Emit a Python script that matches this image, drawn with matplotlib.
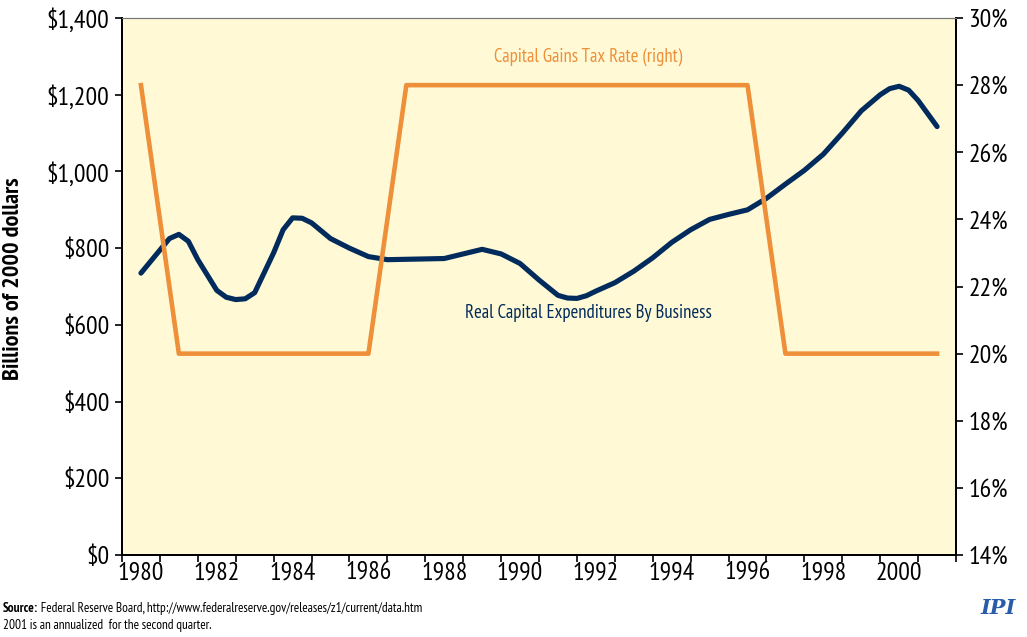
import numpy as np
import matplotlib.pyplot as plt

plt.rcParams['font.family'] = ['PT Sans Narrow', 'DejaVu Sans']

# tax rate, one value per year
years = np.arange(1980, 2002)
tax_rate = [28, 20, 20, 20, 20, 20, 20, 28, 28, 28, 28,
            28, 28, 28, 28, 28, 28, 20, 20, 20, 20, 20]

# capital expenditures (extra readings round the turns)
capex_x = [1980, 1980.5, 1980.75, 1981, 1981.25, 1981.5, 1982, 1982.25, 1982.5,
           1982.75, 1983, 1983.5, 1983.75, 1984, 1984.25, 1984.5, 1985, 1985.5,
           1986, 1986.5, 1987, 1987.5, 1988, 1988.5, 1989, 1989.5, 1990, 1990.5,
           1991, 1991.25, 1991.5, 1991.75, 1992, 1992.5, 1993, 1993.5, 1994,
           1994.5, 1995, 1995.5, 1996, 1996.5, 1997, 1997.5, 1998, 1998.5, 1999,
           1999.5, 1999.75, 2000, 2000.25, 2000.5, 2001]
capex = [735, 795, 825, 836, 818, 770, 690, 672, 666,
         668, 684, 788, 848, 879, 878, 866, 825, 800,
         778, 770, 771, 772, 773, 785, 797, 785, 760, 717,
         677, 670, 669, 676, 688, 710, 740, 775, 815,
         848, 875, 888, 900, 930, 967, 1003, 1045, 1100, 1158,
         1200, 1216, 1222, 1212, 1185, 1117]

year_labels = [str(y) for y in range(1980, 2001, 2)]

navy = '#002B5C'
orange = '#EE8F3A'

fig = plt.figure(figsize=(10.27, 6.37), dpi=100)
ax = fig.add_axes([0.1188, 0.1287, 0.8121, 0.843])
ax.set_facecolor('#FFF9D6')

ax.plot(capex_x, capex, color=navy, lw=3.7, solid_capstyle='round',
        solid_joinstyle='round', zorder=3)
ax.set_ylim(0, 1400)
ax.set_yticks(range(0, 1401, 200))
ax.set_yticklabels(['$0'] + ['${:,}'.format(v) for v in range(200, 1401, 200)])
ax.set_xlim(1979.5, 2001.5)

# year bands: tick marks between years, labels every second year
ax.set_xticks(np.arange(1979.5, 2001.6, 1))
ax.set_xticklabels([])
ax.set_xticks(range(1980, 2001, 2), minor=True)
ax.set_xticklabels(year_labels, minor=True)
ax.tick_params(axis='x', which='minor', length=0, pad=5, labelsize=18.5)
ax.tick_params(axis='x', which='major', length=5, width=1.2)
ax.tick_params(axis='y', length=5, width=1.2, labelsize=18.5, pad=4)
ax.set_ylabel('Billions of 2000 dollars', fontsize=17.5, fontweight='bold')
ax.yaxis.set_label_coords(-0.117, 0.515)

ax2 = ax.twinx()
ax2.plot(years, tax_rate, color=orange, lw=3.3, zorder=2)
ax2.set_ylim(14, 30)
ax2.set_yticks(range(14, 31, 2))
ax2.set_yticklabels(['{}%'.format(v) for v in range(14, 31, 2)])
ax2.tick_params(axis='y', length=5, width=1.2, labelsize=18.5, pad=4)

for a in (ax, ax2):
    a.spines['left'].set_linewidth(1.4)
    a.spines['bottom'].set_linewidth(1.4)
    a.spines['right'].set_linewidth(1.4)
    a.spines['top'].set_color('#777777')
    a.spines['top'].set_linewidth(0.8)

ax.text(1991.8, 1298, 'Capital Gains Tax Rate (right)', color=orange,
        fontsize=13.5, ha='center', va='center')
ax.text(1991.8, 632, 'Real Capital Expenditures By Business', color=navy,
        fontsize=13.5, ha='center', va='center')

src = fig.text(0.003, 0.040, 'Source:', fontsize=9.5, fontweight='bold', va='baseline')
ax.annotate(' Federal Reserve Board, http://www.federalreserve.gov/releases/z1/current/data.htm',
            xy=(1, 0), xycoords=src, va='bottom', fontsize=9.5, annotation_clip=False)
fig.text(0.003, 0.012, '2001 is an annualized  for the second quarter.', fontsize=9.5, va='baseline')
fig.text(0.972, 0.045, 'IPI', family='DejaVu Serif', style='italic', fontweight='bold',
         fontsize=15, color='#2A5BA8', ha='center', va='center')

fig.savefig('out.png', dpi=100)
